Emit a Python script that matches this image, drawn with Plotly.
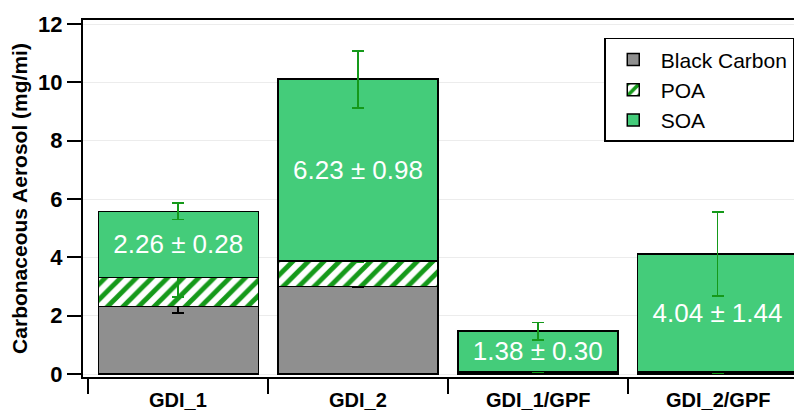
import plotly.graph_objects as go

categories = ["GDI_1", "GDI_2", "GDI_1/GPF", "GDI_2/GPF"]
bc_values = [2.32, 3.00, 0.06, 0.05]
bc_errors = [0.22, 0.03, 0.01, 0.01]
poa_values = [1.00, 0.88, 0.03, 0.02]
poa_errors = [0.68, 0.04, 0.03, 0.02]
soa_values = [2.26, 6.23, 1.38, 4.04]
soa_errors = [0.28, 0.98, 0.30, 1.44]
soa_labels = ["2.26 ± 0.28", "6.23 ± 0.98", "1.38 ± 0.30", "4.04 ± 1.44"]

FONT = "Liberation Sans, Arial, sans-serif"
GREEN_ERR = "#15991a"
SOA_COLOR = "#44cc7a"
BC_COLOR = "#8f8f8f"

fig = go.Figure()
fig.add_trace(go.Bar(
    x=categories, y=bc_values, name="Black Carbon",
    marker=dict(color=BC_COLOR, line=dict(color="black", width=1.5)),
    error_y=dict(type="data", array=bc_errors, color="black", thickness=1.8, width=6),
    width=0.89,
))
fig.add_trace(go.Bar(
    x=categories, y=poa_values, name="POA",
    marker=dict(color="white", line=dict(color="black", width=1.5),
                pattern=dict(shape="/", fgcolor=GREEN_ERR, bgcolor="white",
                             size=11, solidity=0.45, fillmode="replace", fgopacity=1)),
    error_y=dict(type="data", array=poa_errors, color=GREEN_ERR, thickness=1.8, width=6),
    width=0.89,
))
fig.add_trace(go.Bar(
    x=categories, y=soa_values, name="SOA",
    marker=dict(color=SOA_COLOR, line=dict(color="black", width=1.5)),
    error_y=dict(type="data", array=soa_errors, color=GREEN_ERR, thickness=1.8, width=6),
    text=soa_labels, textposition="inside", insidetextanchor="middle",
    textangle=0, textfont=dict(color="white", size=26, family=FONT),
    width=0.89,
))

for cat in categories:
    fig.add_annotation(
        x=cat, xref="x", y=0, yref="paper", yanchor="middle", yshift=-23,
        text=cat, showarrow=False,
        font=dict(size=20, family=FONT, weight="bold", color="black"),
    )

fig.update_layout(
    barmode="stack",
    width=794, height=403,
    margin=dict(l=75, r=0, t=12, b=34, autoexpand=False),
    plot_bgcolor="white", paper_bgcolor="white",
    font=dict(family=FONT, color="black"),
    showlegend=True,
    legend=dict(
        x=0.725, y=0.95, xanchor="left", yanchor="top",
        bgcolor="white", bordercolor="black", borderwidth=1.5,
        font=dict(size=21, family=FONT), traceorder="normal",
        itemwidth=45, tracegroupgap=0,
    ),
    xaxis=dict(
        type="category", range=[-0.53, 3.47], automargin=False,
        showline=True, linecolor="black", linewidth=2, mirror=True,
        ticks="outside", tickson="boundaries", ticklen=15, tickwidth=2, tickcolor="black",
        showticklabels=False,
        showgrid=False, zeroline=False,
    ),
    yaxis=dict(
        range=[-0.1, 12.14], automargin=False,
        tickvals=[0, 2, 4, 6, 8, 10, 12],
        showline=True, linecolor="black", linewidth=2,
        ticks="outside", ticklen=14, tickwidth=2, tickcolor="black",
        tickfont=dict(size=22, family=FONT, weight="bold"),
        showgrid=True, gridcolor="#ececec", gridwidth=1,
        zeroline=False,
        title=dict(text="Carbonaceous Aerosol (mg/mi)",
                   font=dict(size=21, family=FONT, weight="bold"), standoff=6),
    ),
)

fig.write_html("out.html")
